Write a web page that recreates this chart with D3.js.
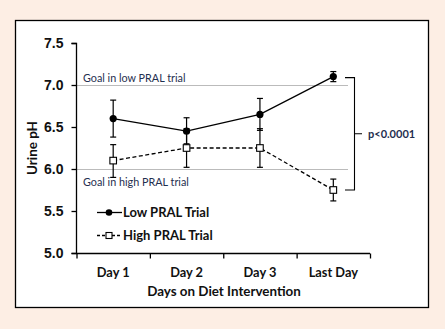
<!DOCTYPE html>
<html>
<head>
<meta charset="utf-8">
<script src="https://cdn.jsdelivr.net/npm/d3@7"></script>
<style>
  body { margin: 0; background: #fdeee4; }
  svg { display: block; font-family: Lato, "Open Sans", sans-serif; }
</style>
</head>
<body>
<div id="chart"></div>
<script>
// Data
var days        = [ 'Day 1', 'Day 2', 'Day 3', 'Last Day' ];
var low_mean    = [ 6.60, 6.45, 6.65, 7.10 ];
var low_lo      = [ 6.38, 6.30, 6.46, 7.04 ];
var low_hi      = [ 6.82, 6.61, 6.84, 7.16 ];
var high_mean   = [ 6.10, 6.25, 6.25, 5.75 ];
var high_lo     = [ 5.90, 6.02, 6.02, 5.62 ];
var high_hi     = [ 6.29, 6.48, 6.48, 5.88 ];
var y_ticks     = [ 5.0, 5.5, 6.0, 6.5, 7.0, 7.5 ];
var goals       = [ { value: 7.0, label: 'Goal in low PRAL trial' },
                    { value: 6.0, label: 'Goal in high PRAL trial' } ];

var chart_width  = 445;
var chart_height = 329;
var navy = '#1f2f4f';

var svg = d3.select('#chart')
    .append('svg')
    .attr('width', chart_width)
    .attr('height', chart_height);

// framed white panel
svg.append('rect')
    .attr('x', 15.5).attr('y', 20.5)
    .attr('width', 413).attr('height', 287)
    .attr('fill', '#fff')
    .attr('stroke', '#000')
    .attr('stroke-width', 1.3);

// scales
var x = d3.scaleBand()
    .domain(days)
    .range([ 76.5, 370 ]);

var y = d3.scaleLinear()
    .domain([ 5.0, 7.5 ])
    .range([ 253, 43 ]);

var cx = function(d, i){ return x(days[i]) + x.bandwidth() / 2; };

// goal lines
svg.selectAll('line.goal')
    .data(goals)
    .enter()
    .append('line')
    .attr('class', 'goal')
    .attr('x1', 76.5).attr('x2', 348)
    .attr('y1', function(d){ return y(d.value) + 0.5; })
    .attr('y2', function(d){ return y(d.value) + 0.5; })
    .attr('stroke', '#777')
    .attr('stroke-width', 1)
    .attr('stroke-dasharray', '1,1');

svg.selectAll('text.goal')
    .data(goals)
    .enter()
    .append('text')
    .attr('class', 'goal')
    .attr('x', 83)
    .attr('y', function(d, i){ return i === 0 ? y(d.value) - 3.5 : y(d.value) + 16.5; })
    .attr('font-size', 10.8)
    .attr('fill', navy)
    .text(function(d){ return d.label; });

// axes
var y_axis = d3.axisLeft(y)
    .tickValues(y_ticks)
    .tickFormat(d3.format('.1f'))
    .tickSize(5)
    .tickPadding(8);

svg.append('g')
    .attr('transform', 'translate(76.5,0)')
    .call(y_axis)
    .call(function(g){ g.select('.domain').attr('d', 'M-5,43.5H0V253.5H-5'); });

var x_axis = d3.axisBottom(d3.scaleLinear().domain([ 0, 4 ]).range([ 76.5, 370 ]))
    .ticks(4)
    .tickSize(5)
    .tickFormat('');

svg.append('g')
    .attr('transform', 'translate(0,253.5)')
    .call(x_axis)
    .call(function(g){ g.select('.domain').attr('d', 'M76.5,0H370'); });

svg.selectAll('.tick line, .domain')
    .attr('stroke', '#000')
    .attr('stroke-width', 1.3);

svg.selectAll('.tick text')
    .attr('font-size', 14)
    .attr('font-weight', 'bold')
    .attr('fill', '#111');

// category labels
svg.selectAll('text.day')
    .data(days)
    .enter()
    .append('text')
    .attr('class', 'day')
    .attr('x', function(d){ return x(d) + x.bandwidth() / 2; })
    .attr('y', 277)
    .attr('text-anchor', 'middle')
    .attr('font-size', 12.8)
    .attr('font-weight', 'bold')
    .attr('fill', '#111')
    .text(function(d){ return d; });

svg.append('text')
    .attr('x', 224)
    .attr('y', 296)
    .attr('text-anchor', 'middle')
    .attr('font-size', 13.4)
    .attr('font-weight', 'bold')
    .attr('fill', '#111')
    .text('Days on Diet Intervention');

svg.append('text')
    .attr('transform', 'translate(37,148) rotate(-90)')
    .attr('text-anchor', 'middle')
    .attr('font-size', 13.4)
    .attr('font-weight', 'bold')
    .attr('fill', '#111')
    .text('Urine pH');

// series
var line = d3.line()
    .x(cx)
    .y(function(d){ return y(d); });

function error_bars(lo, hi){
    var g = svg.append('g').attr('stroke', '#000').attr('stroke-width', 1.2);
    lo.forEach(function(v, i){
        var px = cx(v, i);
        g.append('line').attr('x1', px).attr('x2', px).attr('y1', y(lo[i])).attr('y2', y(hi[i]));
        g.append('line').attr('x1', px - 3).attr('x2', px + 3).attr('y1', y(lo[i])).attr('y2', y(lo[i]));
        g.append('line').attr('x1', px - 3).attr('x2', px + 3).attr('y1', y(hi[i])).attr('y2', y(hi[i]));
    });
}

error_bars(low_lo, low_hi);
error_bars(high_lo, high_hi);

svg.append('path')
    .attr('d', line(low_mean))
    .attr('fill', 'none')
    .attr('stroke', '#000')
    .attr('stroke-width', 1.3);

svg.append('path')
    .attr('d', line(high_mean))
    .attr('fill', 'none')
    .attr('stroke', '#000')
    .attr('stroke-width', 1.3)
    .attr('stroke-dasharray', '4,2.5');

svg.selectAll('circle.low')
    .data(low_mean)
    .enter()
    .append('circle')
    .attr('class', 'low')
    .attr('cx', cx)
    .attr('cy', function(d){ return y(d); })
    .attr('r', 3.6)
    .attr('fill', '#000');

svg.selectAll('rect.high')
    .data(high_mean)
    .enter()
    .append('rect')
    .attr('class', 'high')
    .attr('x', function(d, i){ return cx(d, i) - 3.3; })
    .attr('y', function(d){ return y(d) - 3.3; })
    .attr('width', 6.6)
    .attr('height', 6.6)
    .attr('fill', '#fff')
    .attr('stroke', '#000')
    .attr('stroke-width', 1.1);

// significance bracket between the last-day means
var top_y = y(low_mean[3]) + 1;
var bot_y = y(high_mean[3]);
var mid_y = (top_y + bot_y) / 2;
svg.append('path')
    .attr('d', 'M345,' + top_y + 'H354.5V' + bot_y + 'H345M354.5,' + mid_y + 'H362')
    .attr('fill', 'none')
    .attr('stroke', '#000')
    .attr('stroke-width', 1.1);

svg.append('text')
    .attr('x', 368)
    .attr('y', mid_y + 4)
    .attr('font-size', 11)
    .attr('font-weight', 'bold')
    .attr('fill', navy)
    .text('p<0.0001');

// legend
var legend = svg.selectAll('g.legend')
    .data([ { label: 'Low PRAL Trial', dash: null, marker: 'circle' },
            { label: 'High PRAL Trial', dash: '3,2', marker: 'rect' } ])
    .enter()
    .append('g')
    .attr('class', 'legend')
    .attr('transform', function(d, i){ return 'translate(97,' + (212.5 + i * 23) + ')'; });

legend.append('line')
    .attr('x1', 0).attr('x2', 25)
    .attr('stroke', '#000')
    .attr('stroke-width', 1.3)
    .attr('stroke-dasharray', function(d){ return d.dash; });

legend.filter(function(d){ return d.marker === 'circle'; })
    .append('circle')
    .attr('cx', 12).attr('r', 3.3)
    .attr('fill', '#000');

legend.filter(function(d){ return d.marker === 'rect'; })
    .append('rect')
    .attr('x', 9).attr('y', -3).attr('width', 6).attr('height', 6)
    .attr('fill', '#fff')
    .attr('stroke', '#000')
    .attr('stroke-width', 1.1);

legend.append('text')
    .attr('x', 26)
    .attr('y', 4.5)
    .attr('font-size', 13)
    .attr('font-weight', 'bold')
    .attr('fill', '#111')
    .text(function(d){ return d.label; });
</script>
</body>
</html>
